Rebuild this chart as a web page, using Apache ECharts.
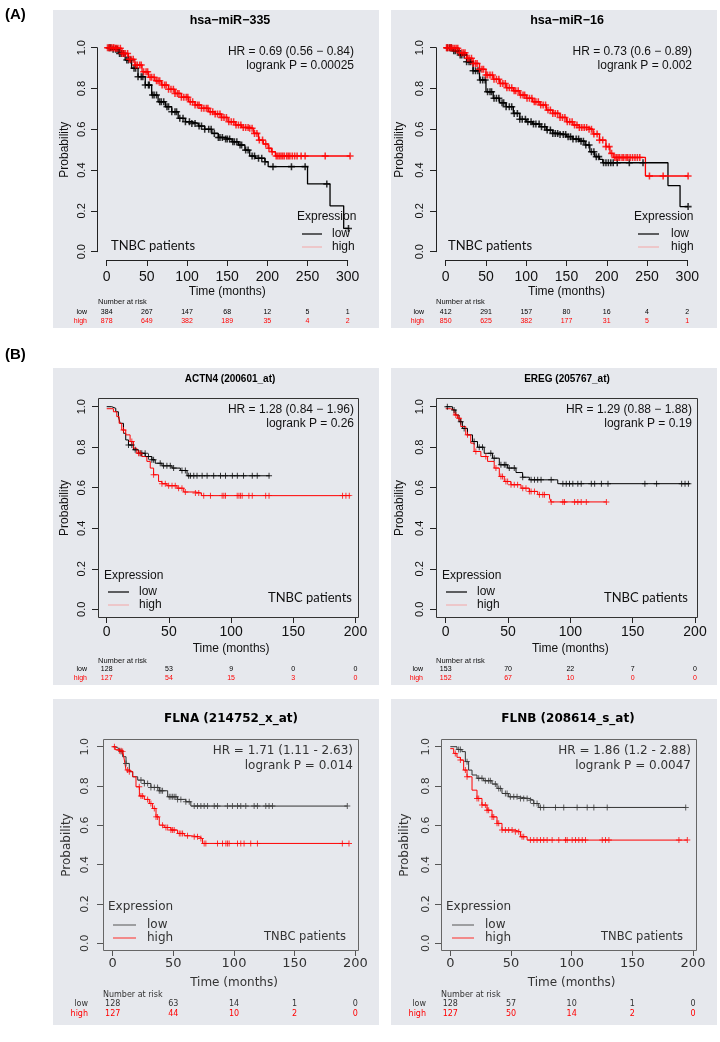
<!DOCTYPE html>
<html><head><meta charset="utf-8">
<script src="https://cdn.jsdelivr.net/npm/echarts@6/dist/echarts.min.js"></script>
<style>html,body{margin:0;padding:0;background:#fff}#c{width:720px;height:1042px}</style>
</head><body><div id="c"></div>
<script>
// ---------------- DATA ----------------
// Kaplan-Meier step curves: [time (months), survival probability]
const a1Low  = [[0,1],[6,0.992],[15,0.972],[23,0.94],[31,0.899],[39,0.858],[48,0.817],[56,0.768],[64,0.735],[73,0.711],[81,0.686],[89,0.654],[98,0.637],[106,0.629],[114,0.616],[122,0.6],[131,0.58],[139,0.56],[147,0.552],[156,0.539],[164,0.523],[172,0.498],[178,0.469],[185,0.458],[197,0.441],[201,0.417],[250,0.332],[278,0.225],[295,0.114],[302,0.114]];
const a1High = [[0,1],[10,0.997],[19,0.972],[27,0.943],[35,0.915],[44,0.882],[52,0.855],[60,0.838],[68,0.817],[77,0.796],[85,0.776],[93,0.757],[102,0.735],[110,0.719],[118,0.703],[127,0.686],[135,0.675],[143,0.658],[151,0.637],[160,0.621],[168,0.609],[178,0.605],[183,0.58],[189,0.547],[195,0.528],[201,0.507],[205,0.49],[210,0.469],[303,0.469]];
const a1LowCens  = [3,5,8,11,13,16,18,21,25,27,30,34,36,39,43,45,48,52,53,57,59,62,66,68,71,75,77,81,85,87,91,95,98,103,106,110,115,118,122,127,130,134,139,141,144,148,150,153,157,159,162,166,168,173,176,181,184,189,193,197,207,230,247,274,301];
const a1HighCens = [1,3,4,6,8,9,11,12,14,17,19,21,23,26,28,30,33,36,38,41,43,46,49,51,54,56,59,62,64,66,69,72,74,77,80,83,85,88,90,93,96,99,101,104,107,110,113,115,118,121,124,126,129,132,135,138,141,143,146,149,152,155,158,161,164,167,170,173,176,178,181,184,187,190,194,198,202,206,211,213,215,217,219,221,224,226,228,231,234,237,242,247,272,303];
const a1RiskLow  = [384,267,147,68,12,5,1];
const a1RiskHigh = [878,649,382,189,35,4,2];

const a2Low  = [[0,1],[9,0.985],[17,0.964],[26,0.931],[34,0.887],[42,0.842],[50,0.784],[59,0.752],[67,0.73],[75,0.711],[84,0.678],[92,0.649],[100,0.637],[108,0.626],[117,0.613],[125,0.596],[133,0.58],[142,0.575],[150,0.564],[158,0.552],[166,0.542],[173,0.523],[179,0.49],[185,0.466],[191,0.453],[195,0.436],[276,0.324],[291,0.221],[301,0.221]];
const a2High = [[0,1],[9,0.997],[17,0.975],[26,0.948],[34,0.923],[42,0.894],[50,0.866],[59,0.845],[67,0.825],[75,0.804],[84,0.789],[92,0.768],[100,0.752],[108,0.735],[117,0.719],[125,0.694],[133,0.678],[142,0.658],[150,0.637],[158,0.621],[166,0.609],[177,0.6],[183,0.577],[191,0.547],[199,0.515],[204,0.482],[208,0.462],[248,0.371],[301,0.371]];
const a2LowCens  = [2,5,7,10,12,15,18,20,23,26,29,31,34,37,40,43,46,49,52,55,57,60,63,66,70,72,75,79,82,85,89,92,95,99,102,106,109,112,116,119,123,126,130,133,136,139,142,146,149,152,155,158,162,165,168,171,174,178,181,184,187,190,196,199,202,205,208,213,228,245,301];
const a2HighCens = [1,2,4,6,7,9,11,13,15,17,20,22,24,27,29,32,34,37,39,42,45,47,50,52,55,58,60,63,66,68,71,74,76,79,82,85,87,90,93,96,98,101,104,107,110,112,115,118,121,124,127,130,133,136,139,142,145,148,151,154,157,160,163,166,169,172,175,178,181,184,188,191,195,199,203,206,210,212,214,216,219,221,224,226,229,232,235,238,241,253,270,301];
const a2RiskLow  = [412,291,157,80,16,4,2];
const a2RiskHigh = [850,625,382,177,31,5,1];

const b1Low  = [[0,1],[4,0.992],[7.3,0.975],[9.4,0.951],[10.8,0.918],[13.5,0.869],[15.3,0.836],[17.5,0.811],[21.5,0.787],[25.6,0.77],[31,0.754],[36.3,0.738],[39,0.721],[44.4,0.708],[52.5,0.697],[59.2,0.685],[64.6,0.659],[131,0.659]];
const b1High = [[0,0.99],[5.4,0.975],[8.1,0.951],[10,0.918],[12.1,0.885],[15.3,0.861],[18.8,0.828],[21.5,0.795],[24.2,0.77],[28.2,0.754],[32.3,0.73],[35,0.697],[37.7,0.664],[41.7,0.631],[44.4,0.62],[48.4,0.61],[56.5,0.598],[61.9,0.579],[71.3,0.574],[76.1,0.561],[196,0.561]];
const b1LowCens  = [17.5,20.2,22.9,26.9,28.2,30.9,33.6,36.3,37.7,43,45.7,48.4,51.1,53.8,60.5,63.2,65.9,67.3,70,72.6,76.7,80.7,86,91.5,95.5,101,105,110,117,121,130.5];
const b1HighCens = [13.5,20.2,25.6,26.9,37.7,44.4,47.1,49.8,52.5,55.1,57.8,60.5,63.2,71.3,74,78,83.4,92.8,94.2,95.5,104.9,106.3,107.6,108.9,114.3,117,127.8,130.5,189.6,192.3,195];
const b1RiskLow  = [128,53,9,0,0];
const b1RiskHigh = [127,54,15,3,0];

const b2Low  = [[0,1],[5.4,0.984],[8.1,0.959],[10.7,0.926],[13.4,0.893],[17.5,0.861],[21.5,0.828],[25.5,0.8],[30.9,0.77],[37.6,0.746],[43,0.713],[49.7,0.697],[56.4,0.675],[61.7,0.652],[67.1,0.639],[89.9,0.62],[196,0.62]];
const b2High = [[0,0.99],[4,0.984],[6.7,0.959],[9.4,0.943],[12.1,0.902],[16.1,0.861],[20.1,0.82],[22.8,0.779],[28.2,0.754],[33.6,0.73],[38.9,0.697],[43,0.656],[47,0.631],[52.3,0.615],[60.4,0.598],[67.1,0.582],[73.8,0.566],[83.3,0.549],[84.6,0.53],[129,0.53]];
const b2LowCens  = [1.3,6.7,12.1,14.8,22.8,26.9,29.5,36.2,38.9,44.3,47,48.3,51,55,61.8,68.5,71.2,73.8,76.5,84.6,94,96.7,99.3,102,106,108.7,116.8,119.5,124.9,130.2,159.8,169.2,189.3,192,194.7];
const b2HighCens = [8.1,10.7,17.5,24.2,32.2,40.3,44.3,45.6,48.3,49.7,52.4,55,57.7,61.8,64.4,67.1,68.5,71.2,75.2,77.9,79.2,84.6,94,95.3,103.4,106,108.7,112.8,128.9];
const b2RiskLow  = [153,70,22,7,0];
const b2RiskHigh = [152,67,10,0,0];

const b3Low  = [[0,1],[2,0.99],[5.5,0.975],[8.2,0.949],[11,0.915],[13.7,0.873],[16.5,0.847],[20.6,0.83],[26.1,0.813],[31.5,0.793],[38.4,0.776],[45.3,0.745],[53.5,0.732],[60.3,0.72],[64.4,0.698],[193.4,0.698]];
const b3High = [[0,1],[2,0.985],[5.5,0.98],[8.2,0.975],[9.6,0.932],[11,0.881],[13.7,0.873],[16.5,0.847],[19.2,0.796],[22,0.749],[26.1,0.732],[30.2,0.711],[32.9,0.686],[35.7,0.643],[38.4,0.601],[42.5,0.589],[48,0.576],[53.5,0.559],[59,0.547],[64.4,0.542],[71.3,0.533],[74,0.508],[194.8,0.508]];
const b3LowCens  = [6.9,11,23.3,26.1,28.8,31.5,34.3,37,38.4,39.8,41.1,46.6,48,49.4,50.7,52.1,53.5,56.2,60.3,63.1,67.2,69.9,72.7,75.4,78.2,83.7,86.4,94.6,98.7,102.9,105.6,109.7,116.6,119.3,126.2,128.9,131.7,193.4];
const b3HighCens = [1.4,5.5,6.9,8.2,12.3,13.7,21.9,23.3,24.7,28.8,31.5,34.3,35.7,37,41.1,43.9,45.3,48,49.4,50.7,54.9,56.2,57.6,61.7,67.2,69.9,72.7,75.4,76.8,86.4,90.5,93.3,94.6,96,102.9,105.6,108.3,113.8,119.3,189.3,194.8];
const b3RiskLow  = [128,63,14,1,0];
const b3RiskHigh = [127,44,10,2,0];

const b4Low  = [[0,1],[5.5,0.986],[9.6,0.975],[12.4,0.924],[15.1,0.881],[17.9,0.856],[22,0.839],[27.5,0.827],[34.4,0.81],[38.5,0.788],[42.6,0.762],[48.1,0.745],[56.3,0.737],[64.6,0.728],[68.8,0.711],[72.9,0.691],[194,0.691]];
const b4High = [[0,0.99],[2.8,0.966],[5.5,0.946],[8.3,0.932],[11,0.881],[13.8,0.847],[17.9,0.779],[22,0.737],[26.1,0.703],[30.3,0.677],[34.4,0.643],[38.5,0.61],[42.6,0.576],[53.6,0.567],[57.8,0.542],[63.3,0.525],[195.3,0.525]];
const b4LowCens  = [6.9,8.3,13.8,23.4,26.1,28.9,31.6,33,37.1,39.9,41.3,45.4,46.8,49.5,52.3,55,57.8,60.5,63.3,66,68.8,71.5,74.3,77,86.7,93.5,104.5,112.8,118.3,129.3,194];
const b4HighCens = [4.1,8.3,12.4,13.8,22,23.4,26.1,28.9,30.3,31.6,34.4,35.8,38.5,39.9,42.6,45.4,48.1,50.9,53.6,56.4,59.1,60.5,66,68.8,71.5,74.3,77,79.8,83.9,89.4,94.9,96.3,100.4,103.2,105.9,108.7,111.4,125.2,127.9,130.7,188.4,195.3];
const b4RiskLow  = [128,57,10,1,0];
const b4RiskHigh = [127,50,14,2,0];

const titles   = ['hsa\u2212miR\u2212335','hsa\u2212miR\u221216','ACTN4 (200601_at)','EREG (205767_at)','FLNA (214752_x_at)','FLNB (208614_s_at)'];
const hrTexts  = ['HR = 0.69 (0.56 \u2212 0.84)','HR = 0.73 (0.6 \u2212 0.89)','HR = 1.28 (0.84 \u2212 1.96)','HR = 1.29 (0.88 \u2212 1.88)','HR = 1.71 (1.11 - 2.63)','HR = 1.86 (1.2 - 2.88)'];
const pTexts   = ['logrank P = 0.00025','logrank P = 0.002','logrank P = 0.26','logrank P = 0.19','logrank P = 0.014','logrank P = 0.0047'];
const xMaxes   = [300,300,200,200,200,200];

const panelData = [
  {low:a1Low,high:a1High,lowC:a1LowCens,highC:a1HighCens,rLow:a1RiskLow,rHigh:a1RiskHigh},
  {low:a2Low,high:a2High,lowC:a2LowCens,highC:a2HighCens,rLow:a2RiskLow,rHigh:a2RiskHigh},
  {low:b1Low,high:b1High,lowC:b1LowCens,highC:b1HighCens,rLow:b1RiskLow,rHigh:b1RiskHigh},
  {low:b2Low,high:b2High,lowC:b2LowCens,highC:b2HighCens,rLow:b2RiskLow,rHigh:b2RiskHigh},
  {low:b3Low,high:b3High,lowC:b3LowCens,highC:b3HighCens,rLow:b3RiskLow,rHigh:b3RiskHigh},
  {low:b4Low,high:b4High,lowC:b4LowCens,highC:b4HighCens,rLow:b4RiskLow,rHigh:b4RiskHigh}
];

// ---------------- LAYOUT (pixels) ----------------
const ARIAL='Liberation Sans', DJ='DejaVu Sans';
const layout = [
 {bg:[53,10,379,328], g:[106.7,47.7,347.7,251.7], box:null, yLineX:97, xLineY:260,
  titleX:230,titleY:21,titleFs:12.5, hrR:354,hrY:52,pY:66, ex:297,exY:217,lx1:302,lx2:322,lowY:234,highY:247,tx:332,
  tn:{x:111,y:246,align:'left'}, ylc:82, probX:65, xly:277, timeY:292, narX:98,narY:302,rowR:87,lowRow:312,highRow:321, style:'A', dense:true},
 {bg:[391,10,717,328], g:[445.7,47.7,687.3,251.7], box:null, yLineX:436, xLineY:260,
  titleX:567,titleY:21,titleFs:12.5, hrR:692,hrY:52,pY:66, ex:634,exY:217,lx1:638,lx2:659,lowY:234,highY:247,tx:671,
  tn:{x:448,y:246,align:'left'}, ylc:420, probX:400, xly:277, timeY:292, narX:436,narY:302,rowR:424,lowRow:312,highRow:321, style:'A', dense:true},
 {bg:[53,368,379,685], g:[106.7,406.7,355.5,609.3], box:[98,398,358,617], boxColor:'#333', yLineX:98, xLineY:617,
  titleX:230,titleY:379,titleFs:10, hrR:354,hrY:410,pY:424, ex:104,exY:576,lx1:108,lx2:129,lowY:592,highY:605,tx:139,
  tn:{x:352,y:598,align:'right'}, ylc:82, probX:65, xly:632, timeY:649, narX:98,narY:661,rowR:87,lowRow:669.5,highRow:678, style:'A'},
 {bg:[391,368,717,685], g:[445.7,406.7,695,609.3], box:[436,398,697,617], boxColor:'#333', yLineX:436, xLineY:617,
  titleX:567,titleY:379,titleFs:10, hrR:692,hrY:410,pY:424, ex:442,exY:576,lx1:446,lx2:467,lowY:592,highY:605,tx:477,
  tn:{x:688,y:598,align:'right'}, ylc:420, probX:400, xly:632, timeY:649, narX:436,narY:661,rowR:423,lowRow:669.5,highRow:678, style:'A'},
 {bg:[53,699,379,1025], g:[112.7,746.7,355.3,943.3], box:[103,739,358,950], boxColor:'#666', yLineX:103, xLineY:950,
  titleX:231,titleY:719,titleFs:12, hrR:353,hrY:751,pY:766, ex:108,exY:907,lx1:113,lx2:136,lowY:925,highY:938,tx:147,
  tn:{x:346,y:937,align:'right'}, ylc:85, probX:67, xly:964, timeY:983, narX:103,narY:995,rowR:88,lowRow:1004,highRow:1014, style:'B'},
 {bg:[391,699,717,1025], g:[450.3,746.7,693,943.3], box:[441,739,696,950], boxColor:'#666', yLineX:441, xLineY:950,
  titleX:568,titleY:719,titleFs:12, hrR:691,hrY:751,pY:766, ex:446,exY:907,lx1:452,lx2:474,lowY:925,highY:938,tx:485,
  tn:{x:683,y:937,align:'right'}, ylc:426, probX:405, xly:964, timeY:983, narX:441,narY:995,rowR:426,lowRow:1004,highRow:1014, style:'B'}
];

const CROSS = 'path://M4.2,0H5.8V4.2H10V5.8H5.8V10H4.2V5.8H0V4.2H4.2Z';
const CROSS_BOLD = 'path://M3.9,0H6.1V3.9H10V6.1H6.1V10H3.9V6.1H0V3.9H3.9Z';
function stepAt(curve, t){ let v = curve[0][1]; for (const p of curve){ if (p[0] <= t) v = p[1]; else break; } return v; }

const grids=[], xAxes=[], yAxes=[], series=[], gfx=[];
function txt(x,y,text,o){ o=o||{}; gfx.push({type:'text', x:x, y:y, rotation:o.rot||0, z:10, silent:true,
  style:{text:text, x:0, y:0, fill:o.color||'#111', fontSize:o.fs||12, fontFamily:o.ff||ARIAL, fontWeight:o.fw||'normal',
  textAlign:o.align||'left', textVerticalAlign:'middle'}}); }

txt(5, 15, '(A)', {fs:15, fw:'bold', color:'#000'});
txt(5, 355, '(B)', {fs:15, fw:'bold', color:'#000'});

layout.forEach((L,i)=>{
  const D = panelData[i];
  const isB = L.style==='B';
  const ff = isB ? DJ : ARIAL;
  const tc = isB ? '#333' : '#111';
  const ac = isB ? '#555' : '#222';
  const lowColor = isB ? '#333' : '#000';
  const xfs = isB ? 13 : 14, yfs = 11, rfs = isB ? 8 : 7;
  const gb = L.g[3];
  grids.push({left:L.g[0], top:L.g[1], width:L.g[2]-L.g[0], height:L.g[3]-L.g[1], show:false, containLabel:false, outerBoundsMode:'none'});
  xAxes.push({gridIndex:i, type:'value', min:0, max:xMaxes[i], interval:50, position:'bottom', offset:L.xLineY-gb,
    axisLine:{show:true, onZero:false, lineStyle:{color:ac, width:1}}, axisTick:{show:true, length:6, lineStyle:{color:ac}},
    axisLabel:{show:true, margin:L.xly-xfs/2-L.xLineY, fontFamily:ff, fontSize:xfs, color:tc, showMinLabel:true, showMaxLabel:true},
    splitLine:{show:false}});
  [[D.rLow, L.lowRow, lowColor],[D.rHigh, L.highRow, '#ff0000']].forEach(r=>{
    const arr = r[0];
    xAxes.push({gridIndex:i, type:'value', min:0, max:xMaxes[i], interval:50, position:'bottom', offset:r[1]-rfs/2-gb,
      axisLine:{show:false}, axisTick:{show:false}, splitLine:{show:false},
      axisLabel:{show:true, margin:0, fontFamily:ff, fontSize:rfs, color:r[2], showMinLabel:true, showMaxLabel:true,
        formatter:(v)=>String(arr[Math.round(v/50)])}});
  });
  yAxes.push({gridIndex:i, type:'value', min:0, max:1, interval:0.2, position:'left', offset:L.g[0]-L.yLineX,
    axisLine:{show:true, onZero:false, lineStyle:{color:ac, width:1}}, axisTick:{show:true, length:6, lineStyle:{color:ac}},
    axisLabel:{show:true, rotate:90, margin:(L.yLineX-L.ylc-yfs/2), fontFamily:ff, fontSize:yfs, color:tc,
      formatter:(v)=>v.toFixed(1), showMinLabel:true, showMaxLabel:true},
    splitLine:{show:false}});
  const xi = i*3;
  [[D.low, D.lowC, lowColor],[D.high, D.highC, '#ff0000']].forEach(s=>{
    series.push({type:'line', xAxisIndex:xi, yAxisIndex:i, data:s[0], step:'end', showSymbol:false, symbol:'none', clip:false,
      lineStyle:{color:s[2], width:L.dense?1.3:1}, silent:true, animation:false, z:3});
    series.push({type:'scatter', xAxisIndex:xi, yAxisIndex:i, clip:false, silent:true, animation:false, z:4,
      data:s[1].map(t=>[t, stepAt(s[0], t)]), symbol:L.dense?CROSS_BOLD:CROSS, symbolSize:L.dense?7:6, itemStyle:{color:s[2]}});
  });
  gfx.push({type:'rect', z:-5, silent:true, shape:{x:L.bg[0], y:L.bg[1], width:L.bg[2]-L.bg[0], height:L.bg[3]-L.bg[1]}, style:{fill:'#e6e8ed'}});
  if (L.box) gfx.push({type:'rect', z:1, silent:true, shape:{x:L.box[0]+0.5, y:L.box[1]+0.5, width:L.box[2]-L.box[0], height:L.box[3]-L.box[1]}, style:{fill:'none', stroke:L.boxColor, lineWidth:1}});
  txt(L.titleX, L.titleY, titles[i], {fs:L.titleFs, fw:'bold', ff:ff, align:'center', color:'#000'});
  txt(L.hrR, L.hrY, hrTexts[i], {fs:12, ff:ff, align:'right', color:tc});
  txt(L.hrR, L.pY, pTexts[i], {fs:12, ff:ff, align:'right', color:tc});
  txt(L.ex, L.exY, 'Expression', {fs:12, ff:ff, color:tc});
  gfx.push({type:'line', z:10, silent:true, shape:{x1:L.lx1,y1:L.lowY,x2:L.lx2,y2:L.lowY}, style:{stroke:isB?'#555':'#111', lineWidth:isB?1:1.3}});
  gfx.push({type:'line', z:10, silent:true, shape:{x1:L.lx1,y1:L.highY,x2:L.lx2,y2:L.highY}, style:{stroke:isB?'#f28a8a':'#f4a6a6', lineWidth:isB?2:1}});
  txt(L.tx, L.lowY, 'low', {fs:12, ff:ff, color:tc});
  txt(L.tx, L.highY, 'high', {fs:12, ff:ff, color:tc});
  txt(L.tn.x, L.tn.y, 'TNBC patients', {fs:isB?11.5:13, ff:isB?DJ:'Lato', align:L.tn.align, color:tc});
  txt(L.probX, (L.g[1]+L.g[3])/2, 'Probability', {fs:12, ff:ff, align:'center', rot:Math.PI/2, color:tc});
  txt((L.g[0]+L.g[2])/2, L.timeY, 'Time (months)', {fs:12, ff:ff, align:'center', color:tc});
  txt(L.narX, L.narY, 'Number at risk', {fs:isB?8:7.5, ff:ff, color:tc});
  txt(L.rowR, L.lowRow, 'low', {fs:rfs, ff:ff, align:'right', color:lowColor});
  txt(L.rowR, L.highRow, 'high', {fs:rfs, ff:ff, align:'right', color:'#ff0000'});
});

const chart = echarts.init(document.getElementById('c'), null, {renderer:'canvas', width:720, height:1042});
chart.setOption({
  backgroundColor:'#ffffff', animation:false,
  grid:grids, xAxis:xAxes, yAxis:yAxes, series:series, graphic:{elements:gfx}
});
</script>
</body></html>
